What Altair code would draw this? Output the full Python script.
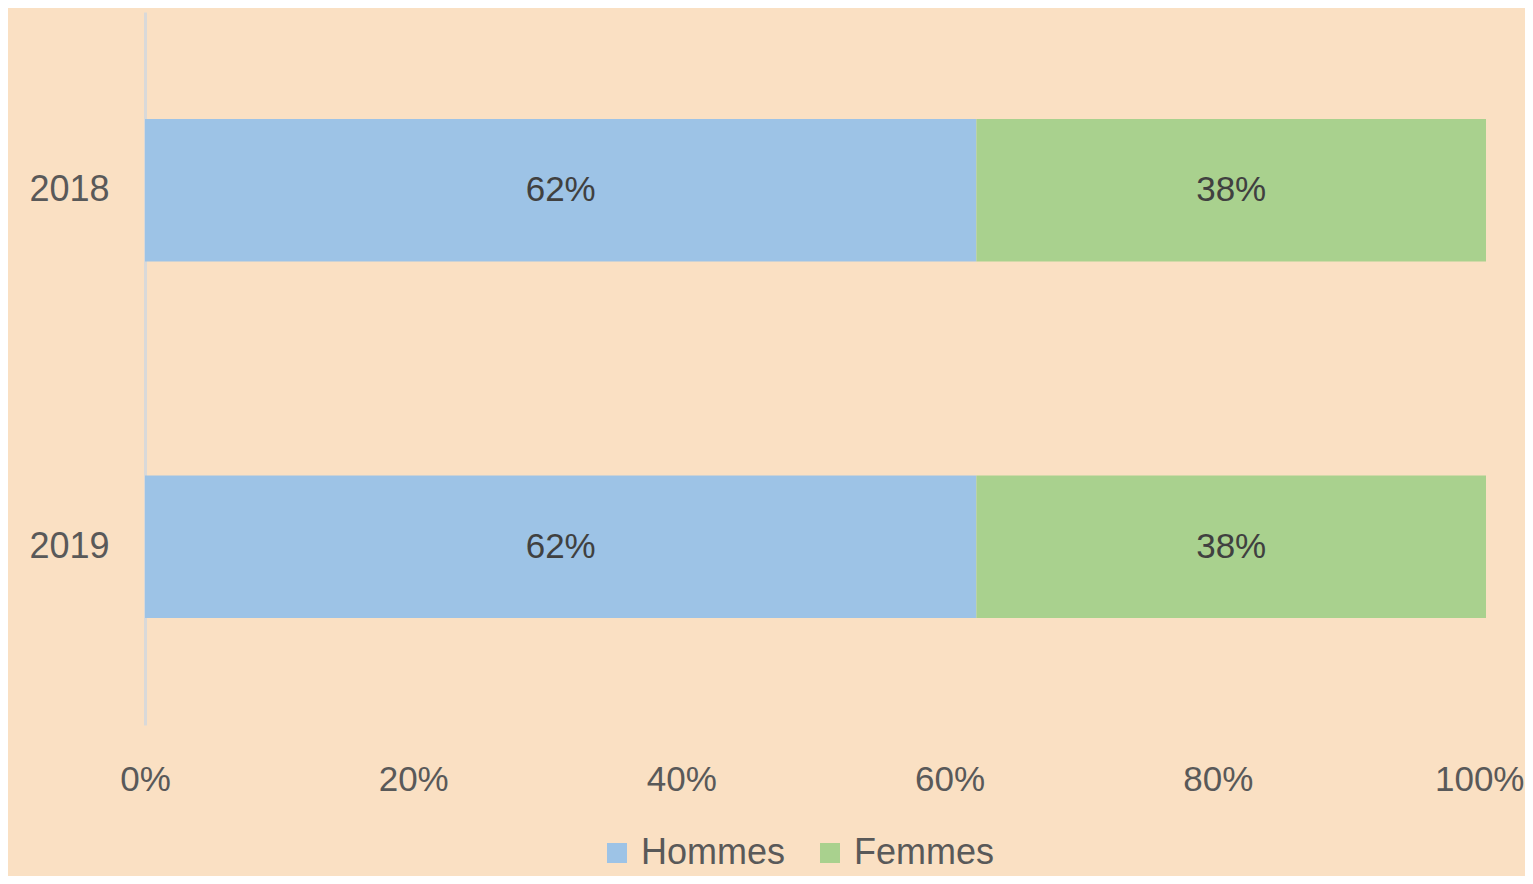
import altair as alt
import pandas as pd

years = ["2018", "2019"]
groups = ["Hommes", "Femmes"]
hommes = [0.62, 0.62]
femmes = [0.38, 0.38]
colors = ["#9DC3E6", "#A9D18E"]

rows = []
for i, y in enumerate(years):
    rows.append({"year": y, "group": "Hommes", "value": hommes[i], "order": 0})
    rows.append({"year": y, "group": "Femmes", "value": femmes[i], "order": 1})
df = pd.DataFrame(rows)

FONT = "Liberation Sans"
TXT = "#595959"

base = alt.Chart(df).encode(
    y=alt.Y(
        "year:N",
        sort=years,
        title=None,
        scale=alt.Scale(paddingInner=0.6, paddingOuter=0.3),
        axis=alt.Axis(
            domain=True, domainColor="#D9D9D9", domainWidth=3, ticks=False,
            labelFont=FONT, labelFontSize=36, labelColor=TXT, labelPadding=36,
            grid=False,
        ),
    ),
)

bars = base.mark_bar().encode(
    x=alt.X(
        "value:Q",
        stack="zero",
        title=None,
        scale=alt.Scale(domain=[0, 1], nice=False),
        axis=alt.Axis(
            values=[0, 0.2, 0.4, 0.6, 0.8, 1.0], format=".0%",
            domain=False, ticks=False, grid=False,
            labelFont=FONT, labelFontSize=35, labelColor=TXT, labelPadding=37,
            labelFlush=False, labelBound=False,
            labelAlign={"condition": {"test": "datum.value >= 1", "value": "right"}, "value": "center"},
            labelOffset={"condition": {"test": "datum.value >= 1", "value": 38}, "value": 0},
        ),
    ),
    color=alt.Color(
        "group:N",
        scale=alt.Scale(domain=groups, range=colors),
        title=None,
        legend=alt.Legend(
            orient="none", legendX=454, legendY=823, direction="horizontal",
            symbolType="square", symbolSize=400, symbolStrokeWidth=0,
            labelFont=FONT, labelFontSize=36, labelColor=TXT,
            labelOffset=6, columnPadding=26, padding=0,
        ),
    ),
    order=alt.Order("order:Q"),
)

labels = base.mark_text(font=FONT, fontSize=35, color="#404040").encode(
    x=alt.X("mid:Q"),
    text=alt.Text("value:Q", format=".0%"),
).transform_stack(
    stack="value", groupby=["year"], as_=["v0", "v1"],
    sort=[alt.SortField("order", order="ascending")],
).transform_calculate(mid="(datum.v0 + datum.v1) / 2")

chart = alt.layer(bars, labels).properties(
    width=1341, height=713,
    background="#FAE0C3",
    padding={"left": 137, "top": 4, "right": 39, "bottom": 151},
    autosize=alt.AutoSizeParams(type="none"),
).configure_view(stroke=None)

chart.save("out.html", embed_options={"renderer": "svg", "actions": False})
